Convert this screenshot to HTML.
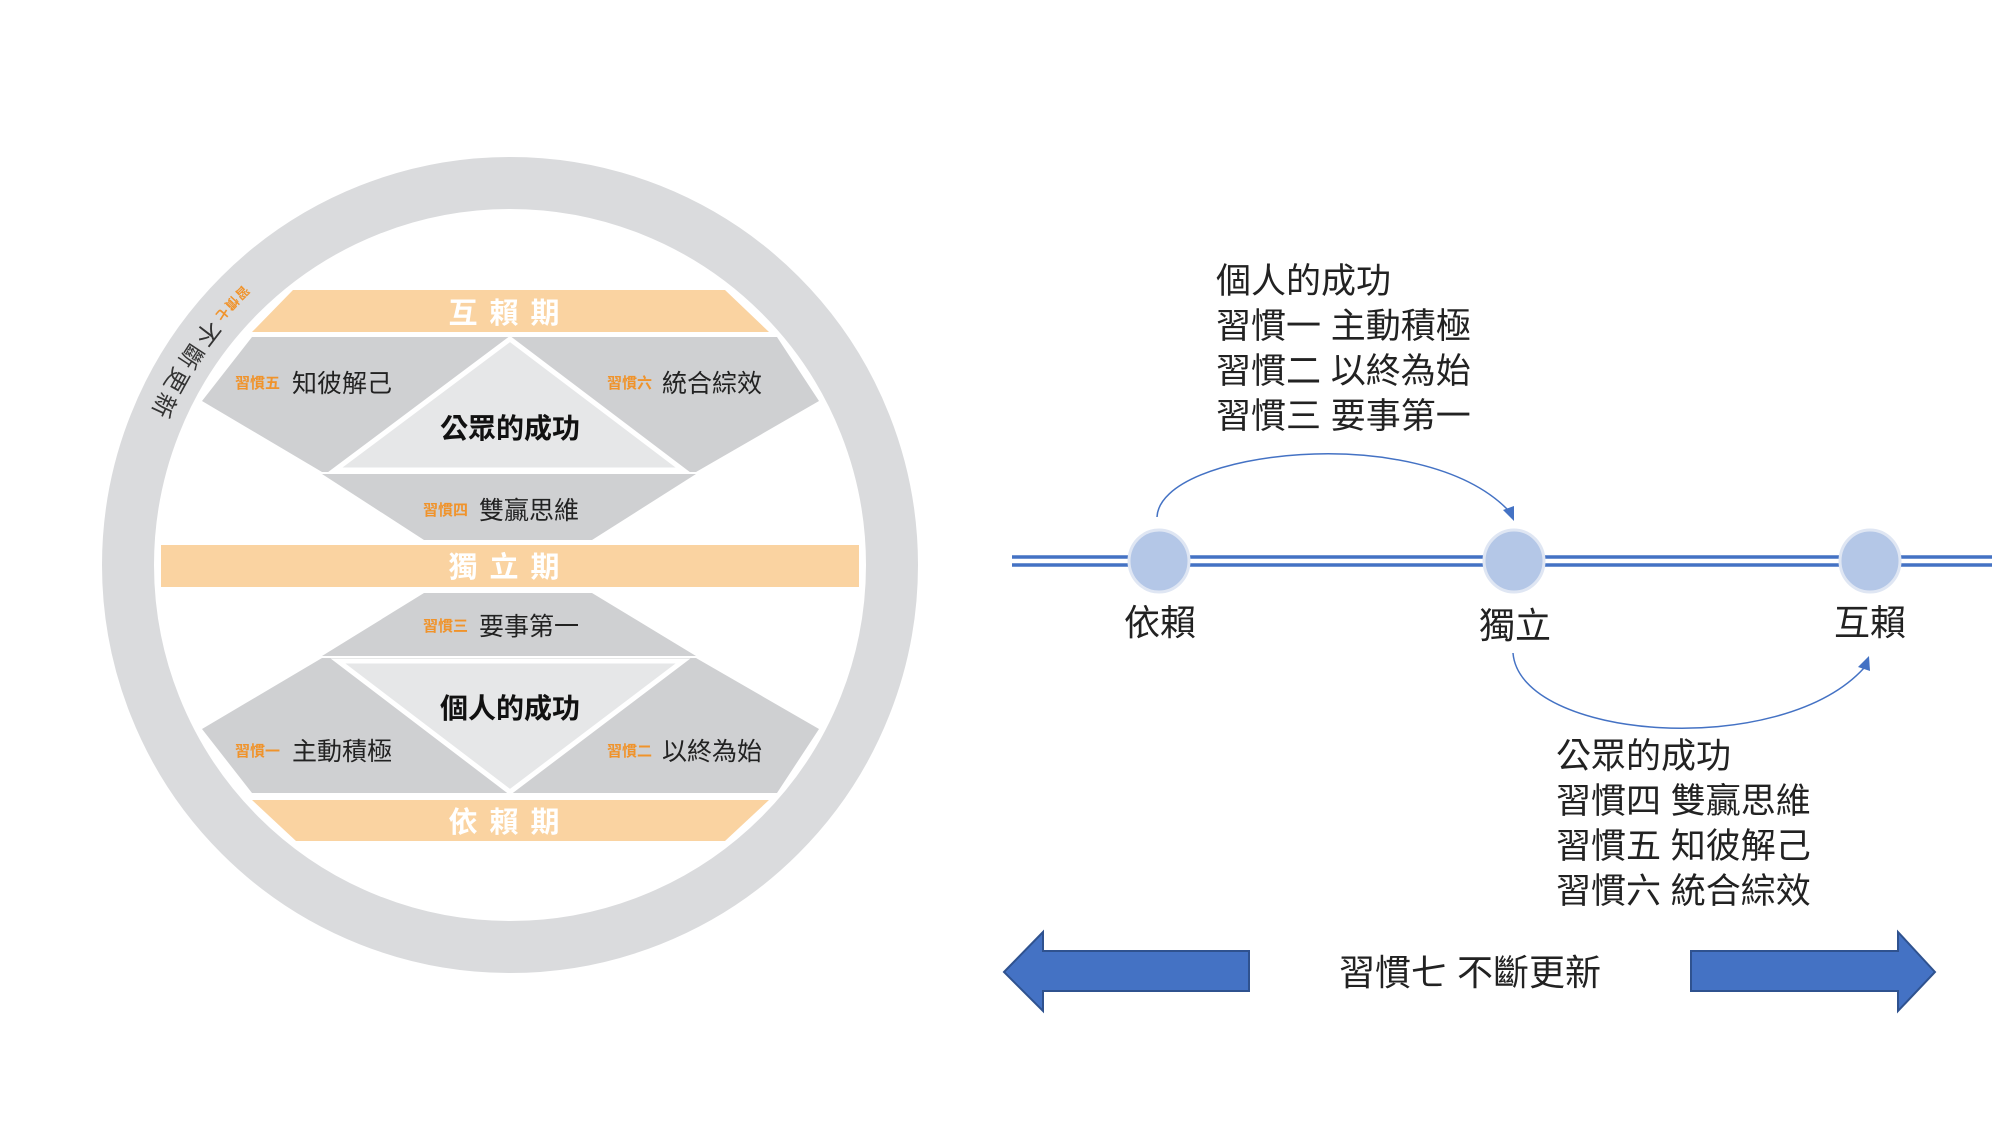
<!DOCTYPE html>
<html><head><meta charset="utf-8"><style>
html,body{margin:0;padding:0;background:#fff;}
svg{display:block;}
text{font-family:"Liberation Sans","Noto Sans CJK TC",sans-serif;}
</style></head><body>
<svg width="2000" height="1124" viewBox="0 0 2000 1124" xmlns="http://www.w3.org/2000/svg">
<!-- ring -->
<circle cx="510" cy="565" r="382" fill="none" stroke="#dadbdd" stroke-width="52"/>
<!-- bands -->
<polygon points="293,290 725,290 769,332 252,332" fill="#fad3a1"/>
<rect x="161" y="545" width="698" height="42" fill="#fad3a1"/>
<polygon points="252,800 769,800 725,841 296,841" fill="#fad3a1"/>
<g fill="#fff" font-weight="bold" font-size="29" text-anchor="middle">
<text x="510" y="323" letter-spacing="12">互賴期</text>
<text x="510" y="577" letter-spacing="12">獨立期</text>
<text x="510" y="832" letter-spacing="12">依賴期</text>
</g>
<!-- upper gray -->
<polygon points="252,337 777,337 819,401 696,472 322,472 202,401" fill="#cfd0d2"/>
<polygon points="510,339 683,470 335,470" fill="#e6e7e8" stroke="#fff" stroke-width="5"/>
<polygon points="322,474 696,474 592,540 424,540" fill="#cfd0d2"/>
<!-- lower gray -->
<polygon points="424,593 592,593 696,656 322,656" fill="#cfd0d2"/>
<polygon points="322,658 696,658 819,729 777,793 252,793 202,729" fill="#cfd0d2"/>
<polygon points="338,661 683,661 510,792" fill="#e6e7e8" stroke="#fff" stroke-width="5"/>
<g font-weight="bold" font-size="28" fill="#111" text-anchor="middle">
<text x="510" y="438">公眾的成功</text>
<text x="510" y="718">個人的成功</text>
</g>
<g font-size="15" font-weight="bold" fill="#f0932b">
<text x="235" y="388">習慣五</text>
<text x="607" y="388">習慣六</text>
<text x="423" y="515">習慣四</text>
<text x="423" y="631">習慣三</text>
<text x="235" y="756">習慣一</text>
<text x="607" y="756">習慣二</text>
</g>
<g font-size="25" fill="#222">
<text x="292" y="392">知彼解己</text>
<text x="662" y="392">統合綜效</text>
<text x="479" y="519">雙贏思維</text>
<text x="479" y="635">要事第一</text>
<text x="292" y="760">主動積極</text>
<text x="662" y="760">以終為始</text>
</g>
<!-- ring text -->
<g font-size="13" font-weight="bold" fill="#f0932b" text-anchor="middle" dominant-baseline="central">
<text transform="translate(510,565) rotate(-134.5) translate(382,0) rotate(-90)">習</text>
<text transform="translate(510,565) rotate(-136.7) translate(382,0) rotate(-90)">慣</text>
<text transform="translate(510,565) rotate(-138.9) translate(382,0) rotate(-90)">七</text>
</g>
<g font-size="24" fill="#333" text-anchor="middle" dominant-baseline="central">
<text transform="translate(510,565) rotate(-142.5) translate(382,0) rotate(-90)">不</text>
<text transform="translate(510,565) rotate(-146.8) translate(382,0) rotate(-90)">斷</text>
<text transform="translate(510,565) rotate(-151) translate(382,0) rotate(-90)">更</text>
<text transform="translate(510,565) rotate(-155.2) translate(382,0) rotate(-90)">新</text>
</g>
<!-- right side -->
<g font-size="35" fill="#222">
<text x="1216" y="293">個人的成功</text>
<text x="1216" y="338">習慣一 主動積極</text>
<text x="1216" y="383">習慣二 以終為始</text>
<text x="1216" y="428">習慣三 要事第一</text>
<text x="1556" y="768">公眾的成功</text>
<text x="1556" y="813">習慣四 雙贏思維</text>
<text x="1556" y="858">習慣五 知彼解己</text>
<text x="1556" y="903">習慣六 統合綜效</text>
</g>
<line x1="1012" y1="557" x2="1992" y2="557" stroke="#4472c4" stroke-width="3.5"/>
<line x1="1012" y1="565" x2="1992" y2="565" stroke="#4472c4" stroke-width="3.5"/>
<g fill="#b4c7e7" stroke="#dfe6f3" stroke-width="3">
<ellipse cx="1159" cy="561" rx="30" ry="31"/>
<ellipse cx="1514" cy="561" rx="30" ry="31"/>
<ellipse cx="1870" cy="561" rx="30" ry="31"/>
</g>
<g font-size="36" fill="#222" text-anchor="middle">
<text x="1160" y="635">依賴</text>
<text x="1515" y="638">獨立</text>
<text x="1870" y="635">互賴</text>
</g>
<g fill="none" stroke="#4472c4" stroke-width="1.5">
<path d="M1157,517 C1160,450 1420,420 1508,510"/>
<path d="M1513,653 C1520,740 1780,760 1864,668"/>
</g>
<polygon points="1514,521 1503,510 1514,506" fill="#4472c4"/>
<polygon points="1869,656 1858,667 1870,671" fill="#4472c4"/>
<!-- bottom arrows -->
<polygon points="1004,972 1043,932 1043,951 1249,951 1249,991 1043,991 1043,1011" fill="#4472c4" stroke="#2f528f" stroke-width="2"/>
<polygon points="1935,972 1898,932 1898,951 1691,951 1691,991 1898,991 1898,1011" fill="#4472c4" stroke="#2f528f" stroke-width="2"/>
<text x="1470" y="985" font-size="36" fill="#222" text-anchor="middle">習慣七 不斷更新</text>
</svg>
</body></html>
